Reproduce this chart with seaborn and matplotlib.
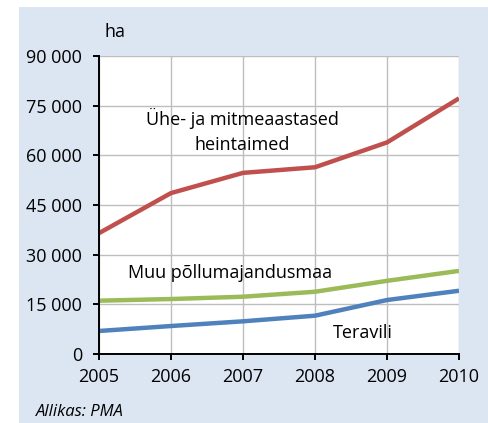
import matplotlib
matplotlib.use("Agg")
import matplotlib.pyplot as plt
import seaborn as sns
import pandas as pd
from matplotlib.patches import Rectangle

years = [2005, 2006, 2007, 2008, 2009, 2010]
heintaimed = [36500, 48600, 54700, 56400, 63900, 77200]
muu = [16100, 16600, 17300, 18800, 22100, 25100]
teravili = [6950, 8450, 9870, 11570, 16300, 19100]
yticks = [0, 15000, 30000, 45000, 60000, 75000, 90000]
ytick_labels = ["0", "15 000", "30 000", "45 000", "60 000", "75 000", "90 000"]

sns.set_theme(style="white")
plt.rcParams["font.family"] = ["Open Sans", "DejaVu Sans"]
plt.rcParams["text.color"] = "black"
FS = 13

df = pd.DataFrame({
    "year": years * 3,
    "value": heintaimed + muu + teravili,
    "series": ["h"] * 6 + ["m"] * 6 + ["t"] * 6,
})
palette = {"h": "#C0504D", "m": "#9BBB59", "t": "#4F81BD"}

fig = plt.figure(figsize=(4.88, 4.23), dpi=100)
fig.patch.set_facecolor("white")
fig.patches.append(Rectangle((19 / 488, 0), 1 - 19 / 488, 1 - 7 / 423,
                             transform=fig.transFigure, facecolor="#DCE6F2",
                             edgecolor="none", zorder=-10))
ax = fig.add_axes([99 / 488, 1 - 354 / 423, 360 / 488, 298 / 423])
ax.set_zorder(1)
ax.set_facecolor("white")

sns.lineplot(data=df, x="year", y="value", hue="series", palette=palette,
             linewidth=3.2, legend=False, ax=ax, solid_capstyle="butt",
             solid_joinstyle="round")

ax.set_xlim(2005, 2010)
ax.set_ylim(0, 90000)
ax.set_xticks(years)
ax.set_xticklabels([str(y) for y in years], fontsize=FS)
ax.set_yticks(yticks)
ax.set_yticklabels(ytick_labels, fontsize=FS)
ax.set_xlabel("")
ax.set_ylabel("")
ax.grid(True, color="#BEBEBE", linewidth=1)
ax.set_axisbelow(True)
for s in ["top", "right"]:
    ax.spines[s].set_visible(False)
for s in ["left", "bottom"]:
    ax.spines[s].set_color("black")
    ax.spines[s].set_linewidth(1.4)
ax.tick_params(axis="both", direction="out", length=4, width=1.4, color="black",
               left=True, bottom=True, labelcolor="black")
ax.tick_params(axis="y", pad=8)
ax.tick_params(axis="x", pad=6)

fig.text(105 / 488, 1 - 32 / 423, "ha", fontsize=FS, va="center", ha="left")
fig.text(242 / 488, 1 - 118 / 423, "Ühe- ja mitmeaastased", fontsize=FS,
         va="center", ha="center")
fig.text(242 / 488, 1 - 145 / 423, "heintaimed", fontsize=FS,
         va="center", ha="center")
fig.text(230 / 488, 1 - 273 / 423, "Muu põllumajandusmaa", fontsize=FS,
         va="center", ha="center")
fig.text(363 / 488, 1 - 333 / 423, "Teravili", fontsize=FS,
         va="center", ha="center")
fig.text(36 / 488, 1 - 412 / 423, "Allikas: PMA", fontsize=FS - 1, style="italic",
         va="center", ha="left")

fig.savefig("out.png", dpi=100)
